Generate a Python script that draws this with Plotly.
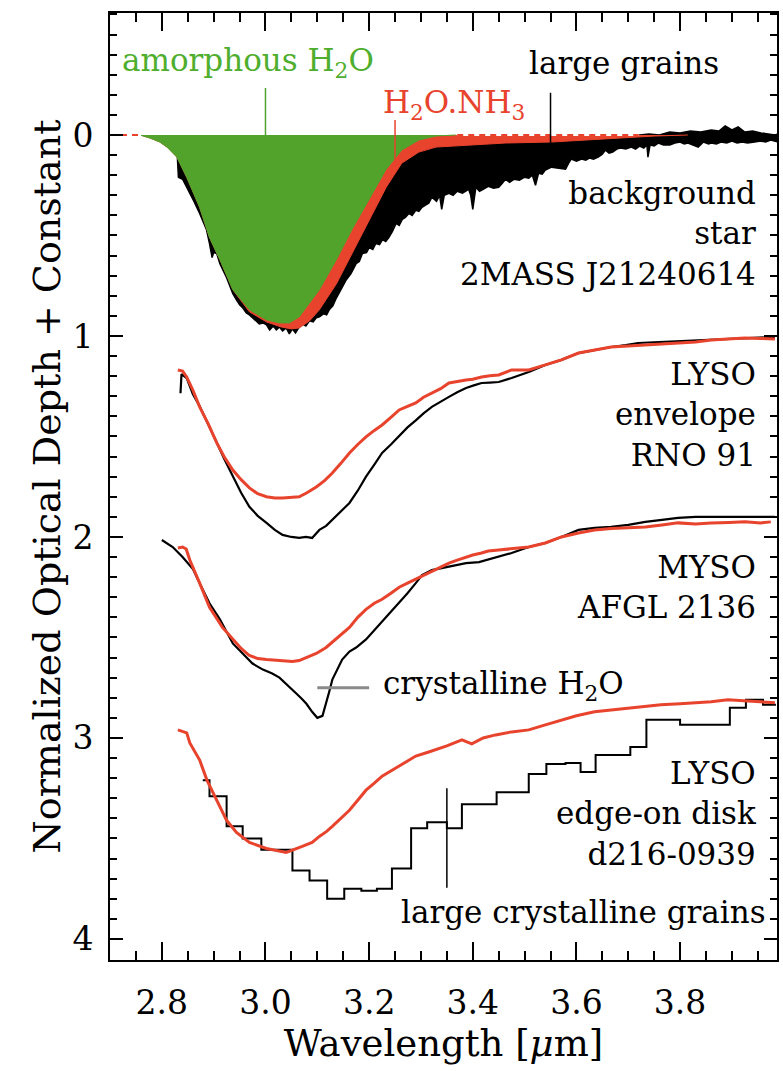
import plotly.graph_objects as go

# ---------------- background star 2MASS J21240614 (offset 0) ----------------
amorph_wl = [2.70, 2.758, 2.777, 2.796, 2.81, 2.829, 2.848, 2.873, 2.892, 2.912, 2.937, 2.969,
             3.002, 3.027, 3.046, 3.065, 3.104, 3.137, 3.167, 3.20, 3.233, 3.263, 3.296, 3.329, 3.367]
amorph_depth = [0.0, 0.0, 0.015, 0.035, 0.06, 0.11, 0.21, 0.36, 0.51, 0.62, 0.77, 0.87,
                0.92, 0.935, 0.935, 0.905, 0.77, 0.62, 0.47, 0.32, 0.17, 0.075, 0.025, 0.005, 0.0]

nh3_wl = [2.70, 2.758, 2.777, 2.796, 2.81, 2.829, 2.848, 2.873, 2.892, 2.912, 2.937, 2.969, 3.002,
          3.03, 3.05, 3.065, 3.085, 3.104, 3.137, 3.167, 3.20, 3.233, 3.263, 3.296, 3.329, 3.398,
          3.463, 3.552, 3.623, 3.687, 3.752, 3.815]
nh3_depth = [0.0, 0.0, 0.015, 0.035, 0.06, 0.11, 0.21, 0.36, 0.51, 0.62, 0.77, 0.88, 0.93,
             0.955, 0.965, 0.96, 0.925, 0.87, 0.74, 0.59, 0.42, 0.26, 0.14, 0.085, 0.06, 0.05,
             0.04, 0.035, 0.025, 0.015, 0.005, 0.0]

star_lo_wl = [2.830, 2.832, 2.840, 2.848, 2.855, 2.862, 2.873, 2.880, 2.886, 2.892, 2.897, 2.900,
              2.906, 2.912, 2.918, 2.925, 2.931, 2.937, 2.944, 2.950, 2.956, 2.963, 2.969, 2.975,
              2.982, 2.988, 2.995, 3.002, 3.008, 3.015, 3.021, 3.027, 3.033, 3.040, 3.046, 3.052,
              3.058, 3.064, 3.071, 3.078, 3.085, 3.092, 3.098, 3.104, 3.112, 3.118, 3.123, 3.130,
              3.137, 3.146, 3.156, 3.165, 3.175, 3.181, 3.187, 3.195, 3.200, 3.207, 3.213, 3.220,
              3.226, 3.232, 3.238, 3.245, 3.252, 3.258, 3.264, 3.270, 3.277, 3.283, 3.290, 3.296,
              3.302, 3.308, 3.315, 3.321, 3.330, 3.336, 3.340, 3.345, 3.354, 3.362, 3.370, 3.380,
              3.392, 3.396, 3.400, 3.406, 3.413, 3.420, 3.430, 3.440, 3.450, 3.457, 3.463, 3.471,
              3.480, 3.490, 3.500, 3.508, 3.515, 3.521, 3.527, 3.534, 3.540, 3.552, 3.565, 3.579,
              3.585, 3.590, 3.600, 3.610, 3.618, 3.625, 3.633, 3.642, 3.650, 3.656, 3.663, 3.670,
              3.678, 3.685, 3.695, 3.706, 3.714, 3.722, 3.730, 3.736, 3.738, 3.742, 3.750, 3.758,
              3.768, 3.780, 3.790, 3.800, 3.808, 3.815, 3.825, 3.835, 3.845, 3.855, 3.860, 3.870,
              3.879, 3.890, 3.900, 3.910, 3.920, 3.930, 3.944, 3.955, 3.965, 3.975, 3.982, 3.989]
star_lo_depth = [0.11, 0.21, 0.22, 0.26, 0.29, 0.33, 0.39, 0.43, 0.47, 0.54, 0.61, 0.585,
                 0.59, 0.64, 0.67, 0.71, 0.75, 0.79, 0.82, 0.845, 0.86, 0.885, 0.895, 0.91,
                 0.925, 0.94, 0.935, 0.945, 0.97, 0.95, 0.97, 0.955, 0.975, 0.96, 0.99, 0.965,
                 0.985, 0.96, 0.94, 0.95, 0.925, 0.93, 0.91, 0.905, 0.89, 0.895, 0.87, 0.85,
                 0.81, 0.77, 0.72, 0.69, 0.64, 0.63, 0.59, 0.585, 0.56, 0.57, 0.54, 0.545,
                 0.52, 0.53, 0.51, 0.48, 0.44, 0.45, 0.42, 0.41, 0.39, 0.40, 0.375, 0.38,
                 0.36, 0.35, 0.34, 0.31, 0.33, 0.30, 0.37, 0.30, 0.29, 0.30, 0.28, 0.29,
                 0.27, 0.30, 0.37, 0.26, 0.28, 0.27, 0.255, 0.265, 0.26, 0.24, 0.22, 0.235,
                 0.22, 0.225, 0.21, 0.215, 0.20, 0.25, 0.19, 0.195, 0.175, 0.16, 0.165, 0.17,
                 0.14, 0.12, 0.13, 0.12, 0.125, 0.115, 0.12, 0.11, 0.095, 0.075, 0.09, 0.085,
                 0.07, 0.065, 0.07, 0.06, 0.07, 0.055, 0.065, 0.05, 0.11, 0.05, 0.055, 0.04,
                 0.05, 0.05, 0.04, 0.035, 0.045, 0.04, 0.05, 0.06, 0.035, 0.045, 0.04, 0.045,
                 0.035, 0.04, 0.03, 0.04, 0.035, 0.04, 0.035, 0.03, 0.035, 0.025, 0.03, 0.035]

star_up_wl = [2.830, 3.650, 3.680, 3.700, 3.720, 3.740, 3.760, 3.780, 3.800, 3.820, 3.840, 3.860,
              3.875, 3.887, 3.900, 3.912, 3.925, 3.940, 3.956, 3.970, 3.983, 3.989]
star_up_depth = [0.03, 0.02, 0.01, 0.005, 0.0, -0.005, 0.0, -0.015, -0.01, -0.02, -0.015, -0.025,
                 -0.02, -0.045, -0.025, -0.04, -0.015, -0.02, -0.01, -0.005, 0.0, -0.005]

# ---------------- LYSO envelope RNO 91 (offset 1) ----------------
rno_obs_wl = [2.836, 2.838, 2.848, 2.860, 2.873, 2.890, 2.906, 2.920, 2.937, 2.953, 2.969, 2.985,
              3.002, 3.018, 3.033, 3.050, 3.065, 3.078, 3.090, 3.104, 3.117, 3.129, 3.145, 3.162,
              3.178, 3.194, 3.210, 3.225, 3.242, 3.258, 3.274, 3.290, 3.305, 3.321, 3.338, 3.354,
              3.370, 3.387, 3.402, 3.417, 3.433, 3.450, 3.475, 3.508, 3.540, 3.571, 3.604, 3.635,
              3.667, 3.695, 3.719, 3.760, 3.800, 3.850, 3.900, 3.950, 3.983]
rno_obs_depth = [1.285, 1.19, 1.21, 1.29, 1.35, 1.44, 1.53, 1.61, 1.70, 1.78, 1.85, 1.895,
                 1.93, 1.965, 1.99, 2.0, 2.005, 2.0, 2.005, 1.965, 1.945, 1.915, 1.875, 1.831,
                 1.77, 1.70, 1.64, 1.582, 1.54, 1.495, 1.455, 1.42, 1.385, 1.353, 1.325, 1.303,
                 1.28, 1.259, 1.246, 1.234, 1.232, 1.229, 1.209, 1.179, 1.144, 1.119, 1.085, 1.07,
                 1.055, 1.045, 1.035, 1.03, 1.025, 1.02, 1.012, 1.008, 1.005]

rno_mod_wl = [2.831, 2.840, 2.848, 2.860, 2.873, 2.890, 2.906, 2.920, 2.937, 2.953, 2.969, 2.985,
              3.002, 3.018, 3.033, 3.050, 3.065, 3.080, 3.098, 3.114, 3.129, 3.145, 3.162, 3.178,
              3.194, 3.210, 3.225, 3.242, 3.258, 3.274, 3.290, 3.305, 3.321, 3.338, 3.354, 3.370,
              3.387, 3.400, 3.417, 3.433, 3.450, 3.475, 3.508, 3.540, 3.571, 3.604, 3.635, 3.667,
              3.700, 3.733, 3.765, 3.796, 3.830, 3.860, 3.895, 3.925, 3.955, 3.983]
rno_mod_depth = [1.169, 1.175, 1.204, 1.27, 1.353, 1.44, 1.532, 1.60, 1.667, 1.715, 1.756, 1.785,
                 1.80, 1.806, 1.806, 1.804, 1.80, 1.78, 1.751, 1.72, 1.682, 1.635, 1.582, 1.54,
                 1.502, 1.47, 1.443, 1.405, 1.368, 1.35, 1.333, 1.305, 1.284, 1.262, 1.234, 1.225,
                 1.219, 1.215, 1.204, 1.198, 1.194, 1.169, 1.169, 1.144, 1.119, 1.085, 1.07, 1.055,
                 1.05, 1.045, 1.04, 1.035, 1.03, 1.02, 1.015, 1.01, 1.012, 1.015]

# ---------------- MYSO AFGL 2136 (offset 2) ----------------
afgl_obs_wl = [2.800, 2.821, 2.840, 2.860, 2.873, 2.892, 2.912, 2.937, 2.956, 2.975, 2.995, 3.013,
               3.027, 3.040, 3.050, 3.060, 3.070, 3.079, 3.090, 3.100, 3.110, 3.117, 3.123, 3.129,
               3.138, 3.148, 3.162, 3.175, 3.194, 3.210, 3.225, 3.242, 3.258, 3.274, 3.290, 3.302,
               3.321, 3.348, 3.387, 3.412, 3.450, 3.475, 3.508, 3.540, 3.571, 3.604, 3.635, 3.667,
               3.700, 3.733, 3.765, 3.796, 3.830, 3.860, 3.900, 3.950, 3.983]
afgl_obs_depth = [2.015, 2.05, 2.10, 2.16, 2.23, 2.33, 2.41, 2.53, 2.58, 2.63, 2.66, 2.68,
                  2.70, 2.73, 2.755, 2.78, 2.805, 2.83, 2.87, 2.90, 2.89, 2.83, 2.77, 2.71,
                  2.66, 2.61, 2.57, 2.55, 2.51, 2.465, 2.42, 2.375, 2.33, 2.28, 2.23, 2.19,
                  2.165, 2.15, 2.13, 2.125, 2.10, 2.08, 2.05, 2.03, 2.0, 1.965, 1.955, 1.95,
                  1.94, 1.925, 1.915, 1.905, 1.90, 1.90, 1.90, 1.90, 1.90]

afgl_mod_wl = [2.831, 2.840, 2.847, 2.854, 2.873, 2.892, 2.917, 2.937, 2.953, 2.969, 2.985, 3.002,
               3.030, 3.052, 3.065, 3.079, 3.098, 3.117, 3.140, 3.162, 3.178, 3.194, 3.210, 3.225,
               3.242, 3.258, 3.274, 3.290, 3.305, 3.321, 3.338, 3.354, 3.370, 3.387, 3.400, 3.417,
               3.430, 3.450, 3.475, 3.508, 3.540, 3.571, 3.604, 3.635, 3.667, 3.700, 3.733, 3.765,
               3.796, 3.830, 3.860, 3.895, 3.925, 3.955, 3.975]
afgl_mod_depth = [2.055, 2.05, 2.06, 2.115, 2.23, 2.35, 2.45, 2.51, 2.555, 2.59, 2.605, 2.61,
                  2.615, 2.62, 2.615, 2.60, 2.58, 2.55, 2.50, 2.45, 2.40, 2.36, 2.33, 2.31,
                  2.28, 2.25, 2.23, 2.21, 2.19, 2.17, 2.15, 2.13, 2.115, 2.10, 2.09, 2.08,
                  2.07, 2.065, 2.06, 2.05, 2.03, 2.0, 1.98, 1.965, 1.958, 1.955, 1.95, 1.94,
                  1.93, 1.935, 1.93, 1.928, 1.925, 1.93, 1.925]

# ---------------- LYSO edge-on disk d216-0939 (offset 3) ----------------
d216_mod_wl = [2.831, 2.848, 2.854, 2.864, 2.873, 2.887, 2.906, 2.925, 2.944, 2.969, 3.002, 3.040,
               3.071, 3.090, 3.104, 3.118, 3.129, 3.145, 3.162, 3.178, 3.194, 3.210, 3.225, 3.258,
               3.290, 3.315, 3.350, 3.379, 3.398, 3.420, 3.444, 3.475, 3.508, 3.540, 3.571, 3.600,
               3.635, 3.670, 3.700, 3.730, 3.763, 3.800, 3.829, 3.860, 3.892, 3.925, 3.956, 3.983]
d216_mod_depth = [2.96, 2.975, 3.025, 3.07, 3.11, 3.21, 3.31, 3.41, 3.47, 3.52, 3.55, 3.57,
                  3.54, 3.52, 3.49, 3.465, 3.44, 3.40, 3.36, 3.31, 3.26, 3.225, 3.19, 3.14,
                  3.09, 3.07, 3.04, 3.01, 3.03, 3.0, 2.985, 2.97, 2.96, 2.935, 2.91, 2.89,
                  2.87, 2.86, 2.85, 2.845, 2.835, 2.83, 2.825, 2.82, 2.81, 2.815, 2.82, 2.825]

d216_obs_bin_wl = [2.879, 2.892, 2.925, 2.956, 2.992, 3.052, 3.085, 3.119, 3.152, 3.185, 3.215,
                   3.244, 3.281, 3.312, 3.350, 3.379, 3.446, 3.508, 3.542, 3.579, 3.608, 3.637,
                   3.704, 3.735, 3.800, 3.867, 3.896, 3.927, 3.960, 3.985]
d216_obs_depth = [3.21, 3.29, 3.44, 3.50, 3.557, 3.66, 3.71, 3.80, 3.75, 3.76, 3.75,
                  3.65, 3.45, 3.42, 3.45, 3.33, 3.27, 3.18, 3.13, 3.125, 3.17, 3.085,
                  3.045, 2.91, 2.935, 2.935, 2.85, 2.81, 2.835, 2.835]

# ---------------- annotation markers ----------------
amorph_mark_wl = 3.0
nh3_mark_wl = 3.25
large_grains_mark_wl = 3.55
cryst_mark_wl = [3.10, 3.20]
cryst_mark_depth = 2.75
large_cryst_mark_wl = 3.35

X_RANGE = [2.70, 3.987]
Y_RANGE = [4.105, -0.607]

GREEN = "#52a32c"
RED = "#e8432d"
FONT = "DejaVu Serif"

fig = go.Figure()

# black noisy spectrum of the background star (drawn as an envelope)
fig.add_trace(go.Scatter(
    x=star_lo_wl + star_up_wl[::-1], y=star_lo_depth + star_up_depth[::-1],
    mode="lines", fill="toself", fillcolor="black",
    line=dict(color="black", width=1.5), hoverinfo="skip", showlegend=False))
# H2O.NH3 model
fig.add_trace(go.Scatter(x=nh3_wl, y=nh3_depth, mode="lines", fill="toself", fillcolor=RED,
                         line=dict(color=RED, width=1), showlegend=False))
# amorphous H2O model
fig.add_trace(go.Scatter(x=amorph_wl, y=amorph_depth, mode="lines", fill="toself", fillcolor=GREEN,
                         line=dict(color=GREEN, width=1), showlegend=False))
# zero line dashes
for seg in ([2.70, 2.76], [3.37, 3.72]):
    fig.add_trace(go.Scatter(x=seg, y=[0, 0], mode="lines", line=dict(color="white", width=2),
                             showlegend=False))
    fig.add_trace(go.Scatter(x=seg, y=[0, 0], mode="lines",
                             line=dict(color=RED, width=2, dash="6px,5px"), showlegend=False))

# RNO 91
fig.add_trace(go.Scatter(x=rno_obs_wl, y=rno_obs_depth, mode="lines",
                         line=dict(color="black", width=2.2), showlegend=False))
fig.add_trace(go.Scatter(x=rno_mod_wl, y=rno_mod_depth, mode="lines",
                         line=dict(color=RED, width=3), showlegend=False))
# AFGL 2136
fig.add_trace(go.Scatter(x=afgl_obs_wl, y=afgl_obs_depth, mode="lines",
                         line=dict(color="black", width=2.2), showlegend=False))
fig.add_trace(go.Scatter(x=afgl_mod_wl, y=afgl_mod_depth, mode="lines",
                         line=dict(color=RED, width=3), showlegend=False))
# d216-0939
fig.add_trace(go.Scatter(x=d216_obs_bin_wl, y=d216_obs_depth, mode="lines", line_shape="hv",
                         line=dict(color="black", width=2), showlegend=False))
fig.add_trace(go.Scatter(x=d216_mod_wl, y=d216_mod_depth, mode="lines",
                         line=dict(color=RED, width=3), showlegend=False))

# marker lines
fig.add_trace(go.Scatter(x=[amorph_mark_wl, amorph_mark_wl], y=[-0.234, 0.0], mode="lines",
                         line=dict(color=GREEN, width=1.5), showlegend=False))
fig.add_trace(go.Scatter(x=[nh3_mark_wl, nh3_mark_wl], y=[-0.075, 0.15], mode="lines",
                         line=dict(color=RED, width=1.5), showlegend=False))
fig.add_trace(go.Scatter(x=[large_grains_mark_wl, large_grains_mark_wl], y=[-0.21, 0.05],
                         mode="lines", line=dict(color="black", width=1.5), showlegend=False))
fig.add_trace(go.Scatter(x=cryst_mark_wl, y=[cryst_mark_depth, cryst_mark_depth], mode="lines",
                         line=dict(color="#8a8a8a", width=3), showlegend=False))
fig.add_trace(go.Scatter(x=[large_cryst_mark_wl, large_cryst_mark_wl], y=[3.25, 3.745],
                         mode="lines", line=dict(color="black", width=1.5), showlegend=False))

# invisible anchor trace for the minor-tick overlay axes
fig.add_trace(go.Scatter(x=[X_RANGE[0]], y=[Y_RANGE[1]], xaxis="x2", yaxis="y2", mode="markers",
                         marker=dict(opacity=0), hoverinfo="skip", showlegend=False))

def ann(text, x, y, xanchor, color="black", align="left"):
    fig.add_annotation(x=x, y=y, xref="x", yref="y", text=text, showarrow=False,
                       xanchor=xanchor, yanchor="middle", align=align,
                       font=dict(family=FONT, size=31, color=color))

ann("amorphous H<sub>2</sub>O", 2.719, -0.36, "left", color="#4fae2d")
ann("H<sub>2</sub>O.NH<sub>3</sub>", 3.223, -0.15, "left", color=RED)
ann("large grains", 3.504, -0.36, "left")
ann("background<br>star<br>2MASS J21240614", 3.95, 0.49, "right", align="right")
ann("LYSO<br>envelope<br>RNO 91", 3.95, 1.393, "right", align="right")
ann("MYSO<br>AFGL 2136", 3.95, 2.249, "right", align="right")
ann("crystalline H<sub>2</sub>O", 3.223, 2.74, "left")
ann("LYSO<br>edge-on disk<br>d216-0939", 3.95, 3.378, "right", align="right")
ann("large crystalline grains", 3.969, 3.866, "right")

axis_common = dict(showline=True, linecolor="black", linewidth=2, mirror="allticks",
                   ticks="inside", tickcolor="black", tickwidth=2, showgrid=False, zeroline=False,
                   tickfont=dict(family=FONT, size=33, color="black"))
minor_common = dict(ticks="inside", tickwidth=2, tickcolor="black", mirror="allticks",
                    showticklabels=False, showgrid=False, zeroline=False, showline=False)

fig.update_layout(
    xaxis=dict(range=X_RANGE, tick0=2.8, dtick=0.2, ticklen=18, tickformat=".1f",
               ticklabelstandoff=12,
               title=dict(text="Wavelength [<i>μ</i>m]",
                          font=dict(family=FONT, size=37, color="black"), standoff=8),
               **axis_common),
    yaxis=dict(range=Y_RANGE, tick0=0, dtick=1, ticklen=13, ticklabelstandoff=8,
               title=dict(text="Normalized Optical Depth + Constant",
                          font=dict(family=FONT, size=38, color="black"), standoff=0),
               **axis_common),
    xaxis2=dict(overlaying="x", anchor="y", side="bottom", range=X_RANGE, tick0=2.7, dtick=0.05,
                ticklen=9, **minor_common),
    yaxis2=dict(overlaying="y", anchor="x", side="left", range=Y_RANGE, tick0=0, dtick=0.1,
                ticklen=7, **minor_common),
    width=783, height=1071, margin=dict(l=110, r=4, t=13, b=111),
    plot_bgcolor="white", paper_bgcolor="white", showlegend=False)

fig.write_html("out.html")
